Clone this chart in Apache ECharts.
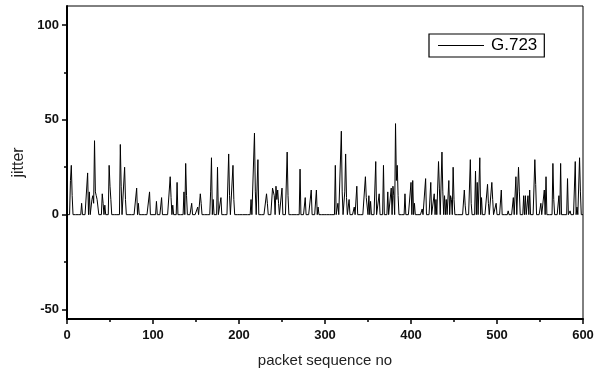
<!DOCTYPE html>
<html><head><meta charset="utf-8">
<script src="https://cdn.jsdelivr.net/npm/echarts@6/dist/echarts.min.js"></script>
<style>html,body{margin:0;padding:0;background:#fff}#c{width:608px;height:376px}</style>
</head><body><div id="c"></div>
<script>
// Jitter spikes: packet sequence no -> jitter (all other packets at 0)
var spikeSeq = [4,5,6,17,24,26,29,30,31,32,33,34,35,36,41,42,44,49,50,51,62,63,67,68,81,83,96,104,110,120,121,123,128,136,138,139,145,152,155,156,167,168,170,175,179,188,189,193,194,214,218,219,222,232,233,239,240,241,243,244,245,246,250,256,257,271,277,284,290,292,312,315,319,320,323,324,325,328,334,337,347,348,349,351,353,359,363,368,373,377,379,380,382,383,384,385,393,400,402,404,413,417,423,427,429,432,433,436,437,439,441,444,446,447,449,450,462,463,469,470,475,477,480,482,489,490,494,495,499,505,513,519,522,525,526,531,533,536,538,544,545,551,555,557,565,566,572,574,582,585,591,593,596,597];
var spikeJitter = [18,26,10,6,22,12,8,10,6,39,12,10,8,9,11,6,5,26,15,8,37,15,25,8,14,6,12,7,9,20,9,5,17,12,27,10,6,4,11,6,12,30,8,25,9,32,10,26,8,8,43,12,29,11,6,14,15,10,15,8,13,6,14,33,10,24,9,13,13,4,26,6,44,12,12,32,9,8,4,15,20,9,8,10,7,28,11,26,12,14,15,10,48,18,26,10,11,17,18,6,3,19,17,11,8,28,14,33,12,10,8,18,10,8,25,8,13,5,29,6,23,17,30,9,16,6,17,8,6,13,2,9,20,25,12,10,10,10,13,29,16,6,13,20,27,8,10,27,19,2,28,4,30,12];
var packetCount = 600;
var seriesName = 'G.723';
var yTicks = [-50,0,50,100];
var yMinorTicks = [-25,25,75];

var lookup = {};
for (var i = 0; i < spikeSeq.length; i++) lookup[spikeSeq[i]] = spikeJitter[i];
var data = [];
for (var p = 0; p <= packetCount; p++) data.push([p, lookup[p] !== undefined ? lookup[p] : 0]);

var font = 'Liberation Sans, Arial, sans-serif';
var chart = echarts.init(document.getElementById('c'), null, {renderer: 'canvas'});
chart.setOption({
  animation: false,
  backgroundColor: '#fff',
  grid: {left: 67, right: 25, top: 6, bottom: 57, show: true, borderColor: '#000', borderWidth: 1, backgroundColor: 'transparent'},
  legend: {
    data: [seriesName], left: 429, top: 34, orient: 'horizontal',
    borderColor: '#000', borderWidth: 1.2, padding: [3, 7, 3, 9],
    itemWidth: 46, itemHeight: 1, itemGap: 4, icon: 'rect',
    textStyle: {fontFamily: font, fontSize: 17, color: '#000', padding: [0, 0, 0, 2]}
  },
  xAxis: {
    type: 'value', min: 0, max: 600, interval: 100,
    name: 'packet sequence no', nameLocation: 'middle', nameGap: 34,
    nameTextStyle: {fontFamily: font, fontSize: 15, color: '#222'},
    axisLine: {onZero: false, lineStyle: {color: '#000', width: 2}},
    axisTick: {show: true, inside: false, length: 5, lineStyle: {color: '#000', width: 1.5}},
    minorTick: {show: true, splitNumber: 2, length: 3, lineStyle: {color: '#000', width: 1.5}},
    axisLabel: {fontFamily: font, fontSize: 13, fontWeight: 'bold', color: '#111', margin: 10},
    splitLine: {show: false}
  },
  yAxis: [{
    type: 'value', min: -55, max: 110,
    name: 'jitter', nameLocation: 'middle', nameGap: 38, nameRotate: 90,
    nameTextStyle: {fontFamily: font, fontSize: 16, color: '#222'},
    axisLine: {onZero: false, lineStyle: {color: '#000', width: 2}},
    axisTick: {show: true, customValues: yTicks, length: 5, lineStyle: {color: '#000', width: 1.5}},
    axisLabel: {customValues: yTicks, fontFamily: font, fontSize: 13, fontWeight: 'bold', color: '#111', margin: 8},
    splitLine: {show: false}
  }, {
    type: 'value', min: -55, max: 110, position: 'left',
    axisLine: {show: false},
    axisTick: {show: true, customValues: yMinorTicks, length: 3, lineStyle: {color: '#000', width: 1.5}},
    axisLabel: {show: false},
    splitLine: {show: false}
  }],
  series: [{
    name: seriesName, type: 'line', data: data, showSymbol: false, symbol: 'none',
    lineStyle: {color: '#000', width: 1}, itemStyle: {color: '#000'}
  }]
});
</script></body></html>
